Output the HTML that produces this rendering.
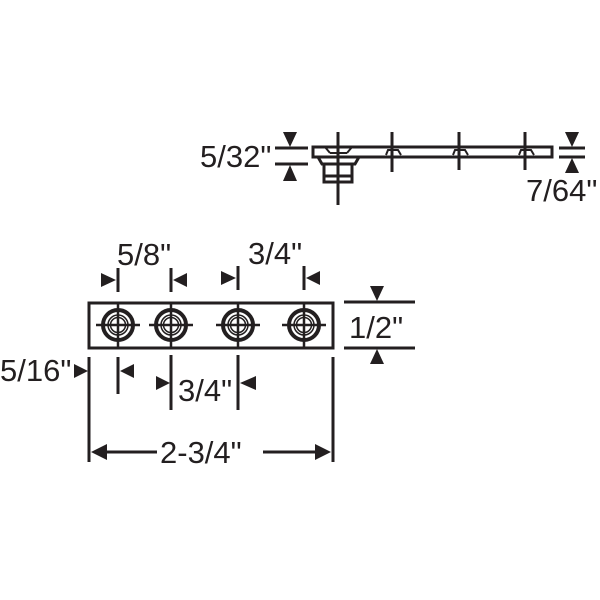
<!DOCTYPE html>
<html><head><style>html,body{margin:0;padding:0;background:#fff}svg{display:block}text{font-family:"Liberation Sans",Arial,sans-serif;font-size:31px;fill:#231f20}</style></head>
<body>
<svg width="600" height="600" viewBox="0 0 600 600" xmlns="http://www.w3.org/2000/svg">
<defs>
<g id="h" stroke="#231f20" fill="none">
<circle cx="0" cy="0" r="15" stroke-width="4"/>
<circle cx="0" cy="0" r="10" stroke-width="1.5"/>
<circle cx="0" cy="0" r="7.5" stroke-width="1.5"/>
<line x1="-22" y1="0" x2="22" y2="0" stroke-width="2.5"/>
<line x1="0" y1="-22" x2="0" y2="22" stroke-width="2.5"/>
</g>
</defs>
<g stroke="#231f20" stroke-width="3" fill="none">
<rect x="313" y="147" width="239" height="10"/>
<path d="M318 157 L322 164 L355 164 L359 157"/>
<rect x="324" y="164" width="28" height="18"/>
<line x1="324" y1="176" x2="352" y2="176"/>
<path d="M325 147 L330 153 M352 147 L347 153 M330 153 L347 153" stroke-width="2"/>
<path d="M386 155 L388 150 L398 150 L401 155 M453 155 L455 150 L465 150 L468 155 M519 155 L521 150 L531 150 L534 155" stroke-width="2"/>
<line x1="338" y1="132" x2="338" y2="205"/>
<line x1="392" y1="132" x2="392" y2="172"/>
<line x1="459" y1="132" x2="459" y2="170"/>
<line x1="525" y1="132" x2="525" y2="170"/>
<line x1="275" y1="148" x2="308" y2="148"/>
<line x1="275" y1="164" x2="308" y2="164"/>
<line x1="559" y1="148" x2="585" y2="148"/>
<line x1="559" y1="157" x2="585" y2="157"/>
<rect x="89" y="303" width="244" height="45"/>
<line x1="344" y1="302" x2="415" y2="302"/>
<line x1="344" y1="348" x2="415" y2="348"/>
<line x1="118" y1="268" x2="118" y2="292"/>
<line x1="171" y1="268" x2="171" y2="292"/>
<line x1="238" y1="266" x2="238" y2="290"/>
<line x1="304" y1="266" x2="304" y2="290"/>
<line x1="89" y1="357" x2="89" y2="462"/>
<line x1="118" y1="357" x2="118" y2="394"/>
<line x1="171" y1="355" x2="171" y2="410"/>
<line x1="238" y1="355" x2="238" y2="410"/>
<line x1="333" y1="357" x2="333" y2="462"/>
<line x1="95" y1="452" x2="157" y2="452"/>
<line x1="263" y1="452" x2="327" y2="452"/>
</g>
<use href="#h" transform="translate(118,325)"/>
<use href="#h" transform="translate(171,325)"/>
<use href="#h" transform="translate(238,325)"/>
<use href="#h" transform="translate(304,325)"/>
<g fill="#231f20">
<polygon points="283,132 297,132 290,147"/>
<polygon points="283,181 297,181 290,165"/>
<polygon points="565,132 579,132 572,147"/>
<polygon points="565,173 579,173 572,158"/>
<polygon points="370,286 384,286 377,301"/>
<polygon points="370,364 384,364 377,349"/>
<polygon points="101,273 101,287 116,280"/>
<polygon points="187,273 187,287 173,280"/>
<polygon points="221,271 221,285 236,278"/>
<polygon points="320,271 320,285 306,278"/>
<polygon points="74,364 74,378 88,371"/>
<polygon points="134,364 134,378 120,371"/>
<polygon points="156,376 156,390 170,383"/>
<polygon points="256,376 256,390 240,383"/>
<polygon points="91,452 107,444 107,460"/>
<polygon points="331,452 315,444 315,460"/>
</g>
<text x="117" y="265">5/8"</text>
<text x="248" y="264">3/4"</text>
<text x="349" y="338">1/2"</text>
<text x="200" y="167">5/32"</text>
<text x="526" y="201">7/64"</text>
<text x="0" y="381">5/16"</text>
<text x="178" y="401">3/4"</text>
<text x="160" y="463">2-3/4"</text>
</svg>
</body></html>
